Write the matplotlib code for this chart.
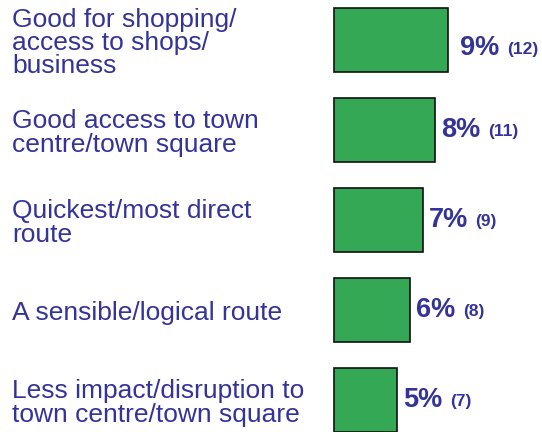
import matplotlib
matplotlib.use("Agg")
import matplotlib.pyplot as plt
from matplotlib.transforms import blended_transform_factory

plt.rcParams['font.family'] = ['Liberation Sans', 'DejaVu Sans']

# reasons given, share of respondents and counts
reasons = [
    "Good for shopping/\naccess to shops/\nbusiness",
    "Good access to town\ncentre/town square",
    "Quickest/most direct\nroute",
    "A sensible/logical route",
    "Less impact/disruption to\ntown centre/town square",
]
percent = [9, 8, 7, 6, 5]
counts = [12, 11, 9, 8, 7]

TEXT = "#333399"
GREEN = "#35a855"

W, H, DPI = 542, 432, 100
PT = 72 / DPI  # points per pixel
fig = plt.figure(figsize=(W / DPI, H / DPI), dpi=DPI)

# bar area starts at x=334px; 12.65px per percent, rows 90px apart
left = 334
ax = fig.add_axes([left / W, 0, (W - left) / W, 1])
ax.set_xlim(0, (W - left) / 12.65)
ax.set_ylim((H - 40) / 90, -40 / 90)
ax.axis("off")

ypos = list(range(len(reasons)))
ax.barh(ypos, percent, height=64 / 90, color=GREEN, edgecolor="#111111",
        linewidth=1.2, clip_on=False)

label_tr = blended_transform_factory(fig.transFigure, ax.transData)
# the top value label sits a little lower and further out than the rest
nudge = [(12, -8), (6, 0), (6, 0), (6, 0), (6, 0)]

for y, name, p, n, (dx, dy) in zip(ypos, reasons, percent, counts, nudge):
    ax.annotate(name, xy=(12 / W, y), xycoords=label_tr, xytext=(0, -3 * PT),
                textcoords="offset points", ha="left", va="center",
                fontsize=19, color=TEXT, linespacing=0.95)
    t = ax.annotate(f"{p}%", xy=(p, y), xytext=(dx * PT, dy * PT),
                    textcoords="offset points", ha="left", va="center",
                    fontsize=19.5, fontweight="bold", color=TEXT)
    ax.annotate(f"({n})", xy=(1, 0.45), xycoords=t, xytext=(5.5, 0),
                textcoords="offset points", ha="left", va="center",
                fontsize=12.5, fontweight="bold", color=TEXT)

fig.savefig("out.png", dpi=DPI)
